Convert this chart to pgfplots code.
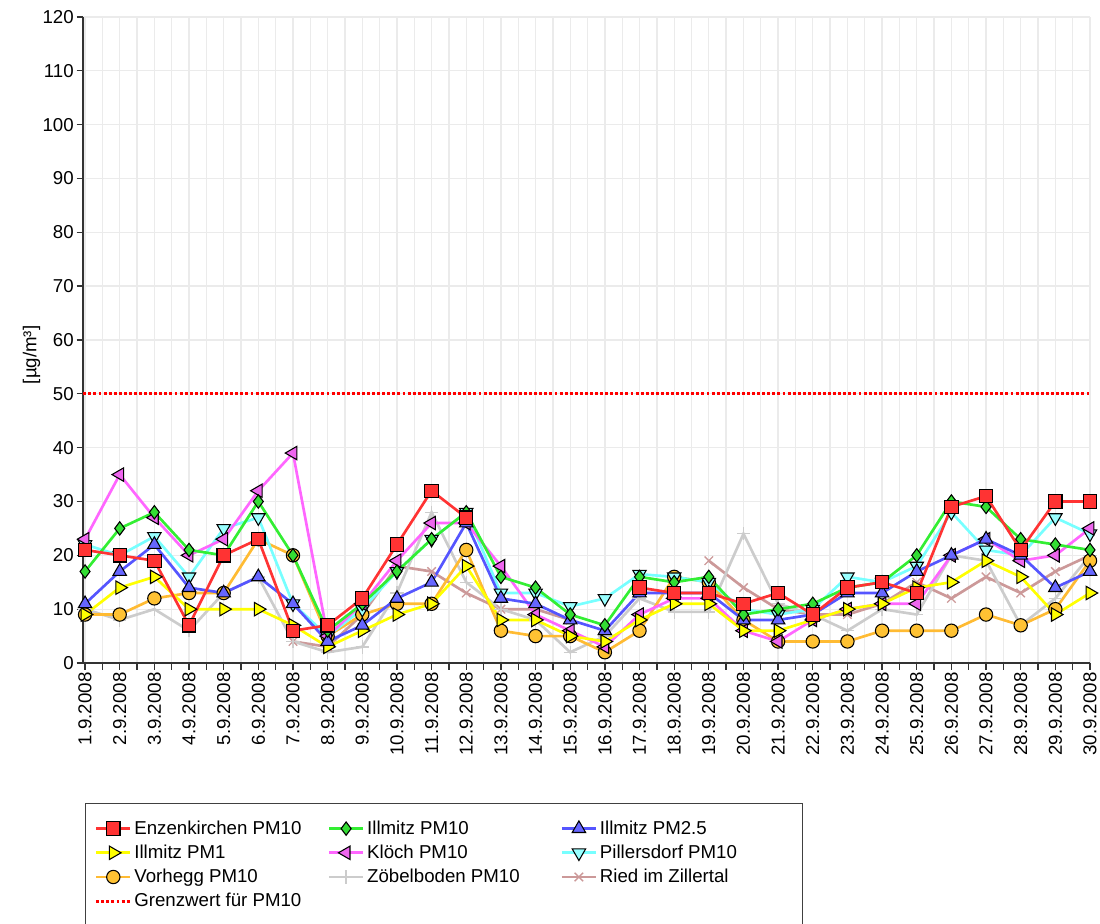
\documentclass[border=0pt]{standalone}
\usepackage{pgfplots}
\pgfplotsset{compat=1.18}
\usepackage{pgfplotstable}
\usepackage{fontspec}
\setmainfont{Liberation Sans}
\newcommand\chfont{\fontsize{14}{16}\selectfont}

\definecolor{cRed}{HTML}{FF3333}
\definecolor{cGreen}{HTML}{33EE33}
\definecolor{cGreenF}{HTML}{33DD33}
\definecolor{cBlue}{HTML}{5555FF}
\definecolor{cBlueF}{HTML}{6666FF}
\definecolor{cYel}{HTML}{FFFF00}
\definecolor{cMag}{HTML}{FF66FF}
\definecolor{cMagF}{HTML}{EE66EE}
\definecolor{cCyan}{HTML}{77FFFF}
\definecolor{cCyanF}{HTML}{99FFFF}
\definecolor{cOra}{HTML}{FFBB33}
\definecolor{cOraF}{HTML}{FFC233}
\definecolor{cGrey}{HTML}{CCCCCC}
\definecolor{cRied}{HTML}{CC9999}
\definecolor{cGrid}{HTML}{EBEBEB}

\pgfplotstableread{
day Enz IP10 IP25 IP1 Kl Pi Vo Zo Ri
1 21 17 11 9 23 22 9 10 nan
2 20 25 17 14 35 20 9 8 nan
3 19 28 22 16 27 23.5 12 10 nan
4 7 21 14 10 20 16 13 6 nan
5 20 20 13 10 23 25 13 13 nan
6 23 30 16 10 32 27 23 16 nan
7 6 20 11 7 39 11 20 4 4
8 7 6 4 3 5 5 5 2 3
9 12 11 7 6 11 10 9 3 9
10 22 17 12 9 19 17 11 13 18
11 32 23 15 11 26 23 11 28 17
12 27 28 26 18 26 28 21 15 13
13 nan 16 12 8 18 13 6 10 10
14 nan 14 11 8 9 13 5 8 10
15 nan 9 8 5 6 10.5 5 2 8
16 nan 7 6 4 3 12 2 5 nan
17 14 16 13 8 9 16.5 6 12 nan
18 13 15 13 11 12 16 16 9.5 nan
19 13 16 13 11 12 15 15 9.5 19
20 11 9 8 6 6 10 8 24 14
21 13 10 8 6 4 9 4 11 10
22 9 11 9 8 8 10 4 9 9
23 14 14 13 10 10 16 4 6 9
24 15 15 13 11 11 15 6 10 11
25 13 20 17 14 11 18 6 9 15
26 29 30 20 15 20 28 6 20 12
27 31 29 23 19 23 21 9 19 16
28 21 23 20 16 19 20 7 7 13
29 30 22 14 9 20 27 10 12 17
30 30 21 17 13 25 24 19 20 20
}\data

\begin{document}
\begin{tikzpicture}
\path[use as bounding box] (-62.5pt,-195.75pt) rectangle (762.5pt,497.25pt);
\begin{axis}[
  scale only axis,
  width=755pt, height=484.5pt,
  xmin=0.95, xmax=30, ymin=0, ymax=120,
  axis x line*=bottom, axis y line*=left,
  axis line style={draw=black!80, line width=1.5pt, -},
  ytick={0,10,...,120},
  xtick={1,...,30},
  minor xtick={1.5,2.5,...,29.5},
  xticklabels={1.9.2008,2.9.2008,3.9.2008,4.9.2008,5.9.2008,6.9.2008,7.9.2008,8.9.2008,9.9.2008,10.9.2008,11.9.2008,12.9.2008,13.9.2008,14.9.2008,15.9.2008,16.9.2008,17.9.2008,18.9.2008,19.9.2008,20.9.2008,21.9.2008,22.9.2008,23.9.2008,24.9.2008,25.9.2008,26.9.2008,27.9.2008,28.9.2008,29.9.2008,30.9.2008},
  xticklabel style={rotate=90, anchor=east, font=\chfont, inner sep=2pt},
  yticklabel style={font=\chfont, inner sep=2pt},
  /pgf/number format/assume math mode=true,
  tick align=outside,
  major tick length=5pt, minor tick length=5pt,
  tick style={draw=black!80, line width=1pt},
  grid=both,
  major grid style={draw=cGrid, line width=1pt},
  minor grid style={draw=cGrid, line width=1pt},
  ylabel={[µg/m³]},
  ylabel style={font=\chfont, at={(axis description cs:-0.038,0.477)}, anchor=south},
  unbounded coords=jump,
  clip=false,
  reverse legend,
  legend columns=3,
  legend cell align=left,
  legend style={at={(rel axis cs:0.0017,-0.2167)}, anchor=north west,
    draw=black!75, line width=0.8pt, font=\chfont,
    inner xsep=7pt, inner ysep=11pt,
    row sep=2.5pt,
    /tikz/every even column/.append style={column sep=0pt}},
  legend image code/.code={\draw[mark repeat=2,mark phase=2,line width=2pt] plot coordinates {(0cm,0cm)(0.45cm,0cm)(0.9cm,0cm)};},
  every axis plot/.append style={line width=2pt},
]
\addplot[draw=red, line width=2.5pt, dash pattern=on 2.2pt off 1.6pt, forget plot] coordinates {(0.95,50) (30,50)};
\addlegendimage{draw=red, line width=2.5pt, dash pattern=on 2.2pt off 1.6pt}
\addlegendentry{\makebox[143pt][l]{Grenzwert für PM10}}
\addplot[draw=cRied, mark=x, mark size=4.5pt, mark options={draw=cRied, line width=1pt}] table[x=day,y=Ri]{\data};
\addlegendentry{\makebox[143pt][l]{Ried im Zillertal}}
\addplot[draw=cGrey, mark=+, mark size=5pt, mark options={draw=cGrey, line width=1pt}] table[x=day,y=Zo]{\data};
\addlegendentry{\makebox[143pt][l]{Zöbelboden PM10}}
\addplot[draw=cOra, mark=*, mark size=5pt, mark options={fill=cOraF, draw=black, line width=0.8pt}] table[x=day,y=Vo]{\data};
\addlegendentry{\makebox[143pt][l]{Vorhegg PM10}}
\addplot[draw=cCyan, mark=triangle*, mark size=5.8pt, mark options={fill=cCyanF, draw=black, line width=0.8pt, rotate=180}] table[x=day,y=Pi]{\data};
\addlegendentry{\makebox[143pt][l]{Pillersdorf PM10}}
\addplot[draw=cMag, mark=triangle*, mark size=5.8pt, mark options={fill=cMagF, draw=black, line width=0.8pt, rotate=90}] table[x=day,y=Kl]{\data};
\addlegendentry{\makebox[143pt][l]{Klöch PM10}}
\addplot[draw=cYel, mark=triangle*, mark size=5.8pt, mark options={fill=cYel, draw=black, line width=0.8pt, rotate=-90}] table[x=day,y=IP1]{\data};
\addlegendentry{\makebox[143pt][l]{Illmitz PM1}}
\addplot[draw=cBlue, mark=triangle*, mark size=5.8pt, mark options={fill=cBlueF, draw=black, line width=0.8pt}] table[x=day,y=IP25]{\data};
\addlegendentry{\makebox[143pt][l]{Illmitz PM2.5}}
\addplot[draw=cGreen, mark=diamond*, mark size=5pt, mark options={fill=cGreenF, draw=black, line width=0.8pt}] table[x=day,y=IP10]{\data};
\addlegendentry{\makebox[143pt][l]{Illmitz PM10}}
\addplot[draw=cRed, mark=square*, mark size=5pt, mark options={fill=cRed, draw=black, line width=0.8pt}] table[x=day,y=Enz]{\data};
\addlegendentry{\makebox[143pt][l]{Enzenkirchen PM10}}
\end{axis}
\end{tikzpicture}
\end{document}
